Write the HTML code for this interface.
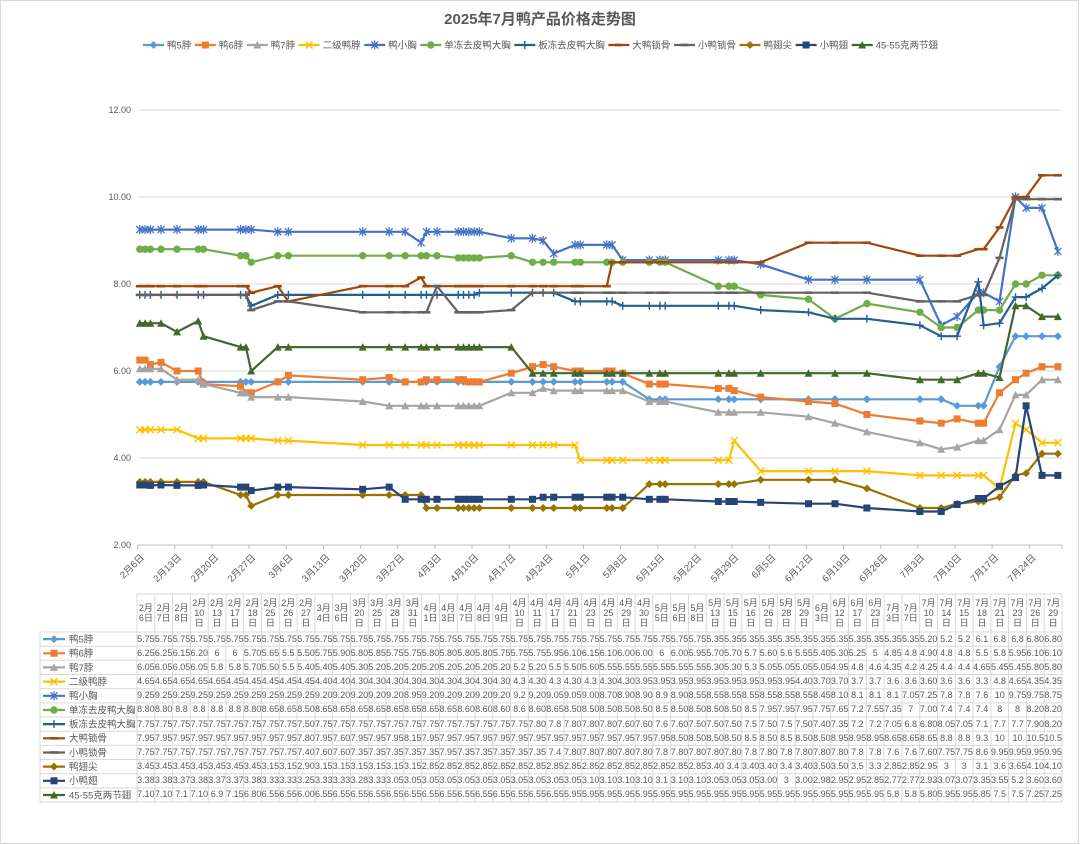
<!DOCTYPE html>
<html><head><meta charset="utf-8">
<style>
body{margin:0;background:#fff}
#c{position:relative;width:1080px;height:845px;overflow:hidden;font-family:"Liberation Sans","Noto Sans CJK SC",sans-serif;color:#595959;background:#fff}
svg{position:absolute;left:0;top:0}
.hd{position:absolute;left:137px;top:594px;width:925px;height:38px;display:grid;grid-template-columns:repeat(52,minmax(0,1fr))}
.hd i{font-style:normal;display:flex;align-items:center;justify-content:center;font-size:9px;line-height:10px;text-align:center;white-space:nowrap}
.hd i span{display:block}
.tb{position:absolute;left:137px;top:632px;width:925px}
.tb div{display:grid;grid-template-columns:repeat(52,minmax(0,1fr));height:14.17px}
.tb i{font-style:normal;display:flex;align-items:center;justify-content:center;font-size:9px;line-height:1;white-space:nowrap}
.l{fill:none;stroke-width:2.2;stroke-linejoin:round}
</style></head><body><div id="c">
<svg width="1080" height="845" viewBox="0 0 1080 845" xmlns="http://www.w3.org/2000/svg" font-family="'Liberation Sans','Noto Sans CJK SC',sans-serif">
<defs>
<marker id="m1" viewBox="-5 -5 10 10" markerWidth="10" markerHeight="10" refX="0" refY="0" markerUnits="userSpaceOnUse"><path d="M0,-4L4,0L0,4L-4,0Z" fill="#5B9BD5"/></marker>
<marker id="m2" viewBox="-5 -5 10 10" markerWidth="10" markerHeight="10" refX="0" refY="0" markerUnits="userSpaceOnUse"><rect x="-3.5" y="-3.5" width="7" height="7" fill="#ED7D31"/></marker>
<marker id="m3" viewBox="-5 -5 10 10" markerWidth="10" markerHeight="10" refX="0" refY="0" markerUnits="userSpaceOnUse"><path d="M0,-4L4,3.5L-4,3.5Z" fill="#A5A5A5"/></marker>
<marker id="m4" viewBox="-5 -5 10 10" markerWidth="10" markerHeight="10" refX="0" refY="0" markerUnits="userSpaceOnUse"><path d="M-3.5,-3.5L3.5,3.5M-3.5,3.5L3.5,-3.5" stroke="#FFC000" stroke-width="1.4" fill="none"/></marker>
<marker id="m5" viewBox="-5 -5 10 10" markerWidth="10" markerHeight="10" refX="0" refY="0" markerUnits="userSpaceOnUse"><path d="M-3.5,-3.5L3.5,3.5M-3.5,3.5L3.5,-3.5M0,-4.5L0,4.5" stroke="#4472C4" stroke-width="1.3" fill="none"/></marker>
<marker id="m6" viewBox="-5 -5 10 10" markerWidth="10" markerHeight="10" refX="0" refY="0" markerUnits="userSpaceOnUse"><circle r="3.7" fill="#70AD47"/></marker>
<marker id="m7" viewBox="-5 -5 10 10" markerWidth="10" markerHeight="10" refX="0" refY="0" markerUnits="userSpaceOnUse"><path d="M-4,0L4,0M0,-4L0,4" stroke="#255E91" stroke-width="1.4" fill="none"/></marker>
<marker id="m8" viewBox="-5 -5 10 10" markerWidth="10" markerHeight="10" refX="0" refY="0" markerUnits="userSpaceOnUse"><rect x="-4" y="-1.3" width="8" height="2.6" fill="#9E480E"/></marker>
<marker id="m9" viewBox="-5 -5 10 10" markerWidth="10" markerHeight="10" refX="0" refY="0" markerUnits="userSpaceOnUse"><rect x="-4" y="-1.3" width="8" height="2.6" fill="#636363"/></marker>
<marker id="m10" viewBox="-5 -5 10 10" markerWidth="10" markerHeight="10" refX="0" refY="0" markerUnits="userSpaceOnUse"><path d="M0,-4L4,0L0,4L-4,0Z" fill="#997300"/></marker>
<marker id="m11" viewBox="-5 -5 10 10" markerWidth="10" markerHeight="10" refX="0" refY="0" markerUnits="userSpaceOnUse"><rect x="-3.5" y="-3.5" width="7" height="7" fill="#264478"/></marker>
<marker id="m12" viewBox="-5 -5 10 10" markerWidth="10" markerHeight="10" refX="0" refY="0" markerUnits="userSpaceOnUse"><path d="M0,-4L4,3.5L-4,3.5Z" fill="#43682B"/></marker>
</defs>
<rect x="0.5" y="0.5" width="1078" height="843" fill="#fff" stroke="#D9D9D9"/>
<text x="540" y="24" text-anchor="middle" font-size="15" font-weight="bold" fill="#595959">2025年7月鸭产品价格走势图</text>

<!-- legend -->
<g class="l" fill="none">
<polyline class="l" stroke="#5B9BD5" points="143,45 153.5,45 164,45" style="marker-mid:url(#m1)"/>
<polyline class="l" stroke="#ED7D31" points="194.9,45 205.4,45 215.9,45" style="marker-mid:url(#m2)"/>
<polyline class="l" stroke="#A5A5A5" points="246.8,45 257.3,45 267.8,45" style="marker-mid:url(#m3)"/>
<polyline class="l" stroke="#FFC000" points="298.6,45 309.1,45 319.6,45" style="marker-mid:url(#m4)"/>
<polyline class="l" stroke="#4472C4" points="364.2,45 374.7,45 385.2,45" style="marker-mid:url(#m5)"/>
<polyline class="l" stroke="#70AD47" points="420.3,45 430.8,45 441.3,45" style="marker-mid:url(#m6)"/>
<polyline class="l" stroke="#255E91" points="514.3,45 524.8,45 535.3,45" style="marker-mid:url(#m7)"/>
<polyline class="l" stroke="#9E480E" points="608.4,45 618.9,45 629.4,45" style="marker-mid:url(#m8)"/>
<polyline class="l" stroke="#636363" points="674,45 684.5,45 695,45" style="marker-mid:url(#m9)"/>
<polyline class="l" stroke="#997300" points="739.5,45 750,45 760.5,45" style="marker-mid:url(#m10)"/>
<polyline class="l" stroke="#264478" points="795.6,45 806.1,45 816.6,45" style="marker-mid:url(#m11)"/>
<polyline class="l" stroke="#43682B" points="851.7,45 862.2,45 872.7,45" style="marker-mid:url(#m12)"/>
</g>
<g font-size="9.5" fill="#595959">
<text x="167" y="48.3">鸭5脖</text>
<text x="218.9" y="48.3">鸭6脖</text>
<text x="270.8" y="48.3">鸭7脖</text>
<text x="322.6" y="48.3">二级鸭脖</text>
<text x="388.2" y="48.3">鸭小胸</text>
<text x="444.3" y="48.3">单冻去皮鸭大胸</text>
<text x="538.3" y="48.3">板冻去皮鸭大胸</text>
<text x="632.4" y="48.3">大鸭锁骨</text>
<text x="698" y="48.3">小鸭锁骨</text>
<text x="763.5" y="48.3">鸭翅尖</text>
<text x="819.6" y="48.3">小鸭翅</text>
<text x="875.7" y="48.3">45-55克两节翅</text>
</g>

<!-- gridlines -->
<path d="M137.7 110H1062M137.7 197H1062M137.7 284H1062M137.7 371H1062M137.7 458H1062" stroke="#D9D9D9" stroke-width="1" fill="none"/>
<path d="M137.7 545H1062" stroke="#BFBFBF" stroke-width="1"/>
<path d="M137.7 545v4M174.8 545v4M212 545v4M249.1 545v4M286.3 545v4M323.4 545v4M360.6 545v4M397.7 545v4M434.9 545v4M472 545v4M509.2 545v4M546.3 545v4M583.5 545v4M620.6 545v4M657.8 545v4M694.9 545v4M732.1 545v4M769.2 545v4M806.4 545v4M843.5 545v4M880.7 545v4M917.8 545v4M955 545v4M992.1 545v4M1029.3 545v4M1062 545v4" stroke="#BFBFBF" stroke-width="1"/>

<!-- y labels -->
<g font-size="9" fill="#595959" text-anchor="end">
<text x="131" y="113.2">12.00</text>
<text x="131" y="200.2">10.00</text>
<text x="131" y="287.2">8.00</text>
<text x="131" y="374.2">6.00</text>
<text x="131" y="461.2">4.00</text>
<text x="131" y="548.2">2.00</text>
</g>

<!-- x labels -->
<g font-size="9.5" fill="#595959" text-anchor="end">
<text x="144.7" y="558" transform="rotate(-45 144.7 558)">2月6日</text>
<text x="181.8" y="558" transform="rotate(-45 181.8 558)">2月13日</text>
<text x="219" y="558" transform="rotate(-45 219 558)">2月20日</text>
<text x="256.1" y="558" transform="rotate(-45 256.1 558)">2月27日</text>
<text x="293.3" y="558" transform="rotate(-45 293.3 558)">3月6日</text>
<text x="330.4" y="558" transform="rotate(-45 330.4 558)">3月13日</text>
<text x="367.6" y="558" transform="rotate(-45 367.6 558)">3月20日</text>
<text x="404.7" y="558" transform="rotate(-45 404.7 558)">3月27日</text>
<text x="441.9" y="558" transform="rotate(-45 441.9 558)">4月3日</text>
<text x="479" y="558" transform="rotate(-45 479 558)">4月10日</text>
<text x="516.2" y="558" transform="rotate(-45 516.2 558)">4月17日</text>
<text x="553.3" y="558" transform="rotate(-45 553.3 558)">4月24日</text>
<text x="590.5" y="558" transform="rotate(-45 590.5 558)">5月1日</text>
<text x="627.6" y="558" transform="rotate(-45 627.6 558)">5月8日</text>
<text x="664.8" y="558" transform="rotate(-45 664.8 558)">5月15日</text>
<text x="701.9" y="558" transform="rotate(-45 701.9 558)">5月22日</text>
<text x="739.1" y="558" transform="rotate(-45 739.1 558)">5月29日</text>
<text x="776.2" y="558" transform="rotate(-45 776.2 558)">6月5日</text>
<text x="813.4" y="558" transform="rotate(-45 813.4 558)">6月12日</text>
<text x="850.5" y="558" transform="rotate(-45 850.5 558)">6月19日</text>
<text x="887.7" y="558" transform="rotate(-45 887.7 558)">6月26日</text>
<text x="924.8" y="558" transform="rotate(-45 924.8 558)">7月3日</text>
<text x="962" y="558" transform="rotate(-45 962 558)">7月10日</text>
<text x="999.1" y="558" transform="rotate(-45 999.1 558)">7月17日</text>
<text x="1036.3" y="558" transform="rotate(-45 1036.3 558)">7月24日</text>
</g>

<!-- series -->
<polyline class="l" stroke="#5B9BD5" style="marker:url(#m1)" points="139.8,381.9 145.1,381.9 150.4,381.9 161,381.9 177,381.9 198.2,381.9 203.5,381.9 240.6,381.9 245.9,381.9 251.2,381.9 277.8,381.9 288.4,381.9 362.7,381.9 389.2,381.9 405.2,381.9 421.1,381.9 426.4,381.9 437,381.9 458.2,381.9 463.5,381.9 468.8,381.9 474.1,381.9 479.4,381.9 511.3,381.9 532.5,381.9 543.1,381.9 553.7,381.9 575,381.9 580.3,381.9 606.8,381.9 612.1,381.9 622.7,381.9 649.3,399.3 659.9,399.3 665.2,399.3 718.3,399.3 728.9,399.3 734.2,399.3 760.7,399.3 808.5,399.3 835,399.3 866.9,399.3 919.9,399.3 941.2,399.3 957.1,405.8 978.3,405.8 983.6,405.8 999.5,366.7 1015.5,336.2 1026.1,336.2 1042,336.2 1057.9,336.2"/>
<polyline class="l" stroke="#ED7D31" style="marker:url(#m2)" points="139.8,360.1 145.1,360.1 150.4,364.5 161,362.3 177,371 198.2,371 203.5,384.1 240.6,386.2 245.9,392.8 251.2,392.8 277.8,381.9 288.4,375.4 362.7,379.7 389.2,377.5 405.2,381.9 421.1,381.9 426.4,379.7 437,379.7 458.2,379.7 463.5,379.7 468.8,381.9 474.1,381.9 479.4,381.9 511.3,373.2 532.5,366.7 543.1,364.5 553.7,366.7 575,371 580.3,371 606.8,371 612.1,371 622.7,373.2 649.3,384.1 659.9,384.1 665.2,384.1 718.3,388.4 728.9,388.4 734.2,390.6 760.7,397.1 808.5,401.5 835,403.6 866.9,414.5 919.9,421 941.2,423.2 957.1,418.9 978.3,423.2 983.6,423.2 999.5,392.8 1015.5,379.7 1026.1,373.2 1042,366.7 1057.9,366.7"/>
<polyline class="l" stroke="#A5A5A5" style="marker:url(#m3)" points="139.8,368.8 145.1,368.8 150.4,368.8 161,368.8 177,379.7 198.2,379.7 203.5,384.1 240.6,392.8 245.9,392.8 251.2,397.1 277.8,397.1 288.4,397.1 362.7,401.5 389.2,405.8 405.2,405.8 421.1,405.8 426.4,405.8 437,405.8 458.2,405.8 463.5,405.8 468.8,405.8 474.1,405.8 479.4,405.8 511.3,392.8 532.5,392.8 543.1,388.4 553.7,390.6 575,390.6 580.3,390.6 606.8,390.6 612.1,390.6 622.7,390.6 649.3,401.5 659.9,401.5 665.2,401.5 718.3,412.3 728.9,412.3 734.2,412.3 760.7,412.3 808.5,416.7 835,423.2 866.9,431.9 919.9,442.8 941.2,449.3 957.1,447.1 978.3,440.6 983.6,440.6 999.5,429.7 1015.5,394.9 1026.1,394.9 1042,379.7 1057.9,379.7"/>
<polyline class="l" stroke="#FFC000" style="marker:url(#m4)" points="139.8,429.7 145.1,429.7 150.4,429.7 161,429.7 177,429.7 198.2,438.4 203.5,438.4 240.6,438.4 245.9,438.4 251.2,438.4 277.8,440.6 288.4,440.6 362.7,445 389.2,445 405.2,445 421.1,445 426.4,445 437,445 458.2,445 463.5,445 468.8,445 474.1,445 479.4,445 511.3,445 532.5,445 543.1,445 553.7,445 575,445 580.3,460.2 606.8,460.2 612.1,460.2 622.7,460.2 649.3,460.2 659.9,460.2 665.2,460.2 718.3,460.2 728.9,460.2 734.2,440.6 760.7,471.1 808.5,471.1 835,471.1 866.9,471.1 919.9,475.4 941.2,475.4 957.1,475.4 978.3,475.4 983.6,475.4 999.5,488.5 1015.5,423.2 1026.1,429.7 1042,442.8 1057.9,442.8"/>
<polyline class="l" stroke="#4472C4" style="marker:url(#m5)" points="139.8,229.6 145.1,229.6 150.4,229.6 161,229.6 177,229.6 198.2,229.6 203.5,229.6 240.6,229.6 245.9,229.6 251.2,229.6 277.8,231.8 288.4,231.8 362.7,231.8 389.2,231.8 405.2,231.8 421.1,242.7 426.4,231.8 437,231.8 458.2,231.8 463.5,231.8 468.8,231.8 474.1,231.8 479.4,231.8 511.3,238.3 532.5,238.3 543.1,240.5 553.7,253.6 575,244.9 580.3,244.9 606.8,244.9 612.1,244.9 622.7,260.1 649.3,260.1 659.9,260.1 665.2,260.1 718.3,260.1 728.9,260.1 734.2,260.1 760.7,264.4 808.5,279.7 835,279.7 866.9,279.7 919.9,279.7 941.2,325.3 957.1,316.6 978.3,292.7 983.6,292.7 999.5,301.4 1015.5,197 1026.1,207.9 1042,207.9 1057.9,251.4"/>
<polyline class="l" stroke="#70AD47" style="marker:url(#m6)" points="139.8,249.2 145.1,249.2 150.4,249.2 161,249.2 177,249.2 198.2,249.2 203.5,249.2 240.6,255.7 245.9,255.7 251.2,262.3 277.8,255.7 288.4,255.7 362.7,255.7 389.2,255.7 405.2,255.7 421.1,255.7 426.4,255.7 437,255.7 458.2,257.9 463.5,257.9 468.8,257.9 474.1,257.9 479.4,257.9 511.3,255.7 532.5,262.3 543.1,262.3 553.7,262.3 575,262.3 580.3,262.3 606.8,262.3 612.1,262.3 622.7,262.3 649.3,262.3 659.9,262.3 665.2,262.3 718.3,286.2 728.9,286.2 734.2,286.2 760.7,294.9 808.5,299.2 835,318.8 866.9,303.6 919.9,312.3 941.2,327.5 957.1,327.5 978.3,310.1 983.6,310.1 999.5,310.1 1015.5,284 1026.1,284 1042,275.3 1057.9,275.3"/>
<polyline class="l" stroke="#255E91" style="marker:url(#m7)" points="139.8,294.9 145.1,294.9 150.4,294.9 161,294.9 177,294.9 198.2,294.9 203.5,294.9 240.6,294.9 245.9,294.9 251.2,305.8 277.8,294.9 288.4,294.9 362.7,294.9 389.2,294.9 405.2,294.9 421.1,294.9 426.4,294.9 437,294.9 458.2,294.9 463.5,294.9 468.8,294.9 474.1,294.9 479.4,292.7 511.3,292.7 532.5,292.7 543.1,292.7 553.7,292.7 575,301.4 580.3,301.4 606.8,301.4 612.1,301.4 622.7,305.8 649.3,305.8 659.9,305.8 665.2,305.8 718.3,305.8 728.9,305.8 734.2,305.8 760.7,310.1 808.5,312.3 835,318.8 866.9,318.8 919.9,325.3 941.2,336.2 957.1,336.2 978.3,281.8 983.6,325.3 999.5,323.2 1015.5,297.1 1026.1,297.1 1042,288.4 1057.9,275.3"/>
<polyline class="l" stroke="#9E480E" style="marker:url(#m8)" points="139.8,286.2 145.1,286.2 150.4,286.2 161,286.2 177,286.2 198.2,286.2 203.5,286.2 240.6,286.2 245.9,286.2 251.2,292.7 277.8,286.2 288.4,301.4 362.7,286.2 389.2,286.2 405.2,286.2 421.1,277.5 426.4,286.2 437,286.2 458.2,286.2 463.5,286.2 468.8,286.2 474.1,286.2 479.4,286.2 511.3,286.2 532.5,286.2 543.1,286.2 553.7,286.2 575,286.2 580.3,286.2 606.8,286.2 612.1,262.3 622.7,262.3 649.3,262.3 659.9,262.3 665.2,262.3 718.3,262.3 728.9,262.3 734.2,262.3 760.7,262.3 808.5,242.7 835,242.7 866.9,242.7 919.9,255.7 941.2,255.7 957.1,255.7 978.3,249.2 983.6,249.2 999.5,227.5 1015.5,197 1026.1,197 1042,175.3 1057.9,175.3"/>
<polyline class="l" stroke="#636363" style="marker:url(#m9)" points="139.8,294.9 145.1,294.9 150.4,294.9 161,294.9 177,294.9 198.2,294.9 203.5,294.9 240.6,294.9 245.9,294.9 251.2,310.1 277.8,301.4 288.4,301.4 362.7,312.3 389.2,312.3 405.2,312.3 421.1,312.3 426.4,312.3 437,286.2 458.2,312.3 463.5,312.3 468.8,312.3 474.1,312.3 479.4,312.3 511.3,310.1 532.5,292.7 543.1,292.7 553.7,292.7 575,292.7 580.3,292.7 606.8,292.7 612.1,292.7 622.7,292.7 649.3,292.7 659.9,292.7 665.2,292.7 718.3,292.7 728.9,292.7 734.2,292.7 760.7,292.7 808.5,292.7 835,292.7 866.9,292.7 919.9,301.4 941.2,301.4 957.1,301.4 978.3,294.9 983.6,294.9 999.5,257.9 1015.5,199.2 1026.1,199.2 1042,199.2 1057.9,199.2"/>
<polyline class="l" stroke="#997300" style="marker:url(#m10)" points="139.8,481.9 145.1,481.9 150.4,481.9 161,481.9 177,481.9 198.2,481.9 203.5,481.9 240.6,495 245.9,495 251.2,505.9 277.8,495 288.4,495 362.7,495 389.2,495 405.2,495 421.1,495 426.4,508 437,508 458.2,508 463.5,508 468.8,508 474.1,508 479.4,508 511.3,508 532.5,508 543.1,508 553.7,508 575,508 580.3,508 606.8,508 612.1,508 622.7,508 649.3,484.1 659.9,484.1 665.2,484.1 718.3,484.1 728.9,484.1 734.2,484.1 760.7,479.8 808.5,479.8 835,479.8 866.9,488.5 919.9,508 941.2,508 957.1,503.7 978.3,501.5 983.6,501.5 999.5,497.2 1015.5,475.4 1026.1,473.2 1042,453.7 1057.9,453.7"/>
<polyline class="l" stroke="#264478" style="marker:url(#m11)" points="139.8,485 145.1,485 150.4,485.4 161,485 177,485.4 198.2,485.4 203.5,485 240.6,487.1 245.9,487.1 251.2,490.6 277.8,487.1 288.4,487.1 362.7,489.3 389.2,487.1 405.2,499.3 421.1,499.3 426.4,499.3 437,499.3 458.2,499.3 463.5,499.3 468.8,499.3 474.1,499.3 479.4,499.3 511.3,499.3 532.5,499.3 543.1,497.2 553.7,497.2 575,497.2 580.3,497.2 606.8,497.2 612.1,497.2 622.7,497.2 649.3,499.3 659.9,499.3 665.2,499.3 718.3,501.5 728.9,501.5 734.2,501.5 760.7,502.4 808.5,503.7 835,503.7 866.9,508 919.9,511.5 941.2,511.5 957.1,504.5 978.3,498.5 983.6,498.5 999.5,486.3 1015.5,477.6 1026.1,405.8 1042,475.4 1057.9,475.4"/>
<polyline class="l" stroke="#43682B" style="marker:url(#m12)" points="139.8,323.2 145.1,323.2 150.4,323.2 161,323.2 177,331.9 198.2,321 203.5,336.2 240.6,347.1 245.9,347.1 251.2,371 277.8,347.1 288.4,347.1 362.7,347.1 389.2,347.1 405.2,347.1 421.1,347.1 426.4,347.1 437,347.1 458.2,347.1 463.5,347.1 468.8,347.1 474.1,347.1 479.4,347.1 511.3,347.1 532.5,373.2 543.1,373.2 553.7,373.2 575,373.2 580.3,373.2 606.8,373.2 612.1,373.2 622.7,373.2 649.3,373.2 659.9,373.2 665.2,373.2 718.3,373.2 728.9,373.2 734.2,373.2 760.7,373.2 808.5,373.2 835,373.2 866.9,373.2 919.9,379.7 941.2,379.7 957.1,379.7 978.3,373.2 983.6,373.2 999.5,377.5 1015.5,305.8 1026.1,305.8 1042,316.6 1057.9,316.6"/>

<!-- data table grid -->
<path stroke="#D9D9D9" stroke-width="1" fill="none" d="M137 594H1062M40 632H1062M40 646.2H1062M40 660.3H1062M40 674.5H1062M40 688.7H1062M40 702.9H1062M40 717H1062M40 731.2H1062M40 745.4H1062M40 759.5H1062M40 773.7H1062M40 787.9H1062M40 802H1062M40 632V802
M137 594V802M154.8 594V802M172.6 594V802M190.4 594V802M208.2 594V802M225.9 594V802M243.7 594V802M261.5 594V802M279.3 594V802M297.1 594V802M314.9 594V802M332.7 594V802M350.5 594V802M368.3 594V802M386 594V802M403.8 594V802M421.6 594V802M439.4 594V802M457.2 594V802M475 594V802M492.8 594V802M510.6 594V802M528.4 594V802M546.1 594V802M563.9 594V802M581.7 594V802M599.5 594V802M617.3 594V802M635.1 594V802M652.9 594V802M670.7 594V802M688.4 594V802M706.2 594V802M724 594V802M741.8 594V802M759.6 594V802M777.4 594V802M795.2 594V802M813 594V802M830.8 594V802M848.5 594V802M866.3 594V802M884.1 594V802M901.9 594V802M919.7 594V802M937.5 594V802M955.3 594V802M973.1 594V802M990.9 594V802M1008.6 594V802M1026.4 594V802M1044.2 594V802M1062 594V802"/>

<!-- table keys -->
<polyline class="l" stroke="#5B9BD5" points="43,639.1 54,639.1 65,639.1" style="marker-mid:url(#m1)"/>
<polyline class="l" stroke="#ED7D31" points="43,653.3 54,653.3 65,653.3" style="marker-mid:url(#m2)"/>
<polyline class="l" stroke="#A5A5A5" points="43,667.4 54,667.4 65,667.4" style="marker-mid:url(#m3)"/>
<polyline class="l" stroke="#FFC000" points="43,681.6 54,681.6 65,681.6" style="marker-mid:url(#m4)"/>
<polyline class="l" stroke="#4472C4" points="43,695.8 54,695.8 65,695.8" style="marker-mid:url(#m5)"/>
<polyline class="l" stroke="#70AD47" points="43,710 54,710 65,710" style="marker-mid:url(#m6)"/>
<polyline class="l" stroke="#255E91" points="43,724.1 54,724.1 65,724.1" style="marker-mid:url(#m7)"/>
<polyline class="l" stroke="#9E480E" points="43,738.3 54,738.3 65,738.3" style="marker-mid:url(#m8)"/>
<polyline class="l" stroke="#636363" points="43,752.5 54,752.5 65,752.5" style="marker-mid:url(#m9)"/>
<polyline class="l" stroke="#997300" points="43,766.6 54,766.6 65,766.6" style="marker-mid:url(#m10)"/>
<polyline class="l" stroke="#264478" points="43,780.8 54,780.8 65,780.8" style="marker-mid:url(#m11)"/>
<polyline class="l" stroke="#43682B" points="43,795 54,795 65,795" style="marker-mid:url(#m12)"/>
<g font-size="9.5" fill="#595959">
<text x="69" y="642.5">鸭5脖</text>
<text x="69" y="656.7">鸭6脖</text>
<text x="69" y="670.8">鸭7脖</text>
<text x="69" y="685">二级鸭脖</text>
<text x="69" y="699.2">鸭小胸</text>
<text x="69" y="713.4">单冻去皮鸭大胸</text>
<text x="69" y="727.5">板冻去皮鸭大胸</text>
<text x="69" y="741.7">大鸭锁骨</text>
<text x="69" y="755.9">小鸭锁骨</text>
<text x="69" y="770">鸭翅尖</text>
<text x="69" y="784.2">小鸭翅</text>
<text x="69" y="798.4">45-55克两节翅</text>
</g>
</svg>

<div class="hd">
<i><span>2月<br>6日</span></i><i><span>2月<br>7日</span></i><i><span>2月<br>8日</span></i><i><span>2月<br>10<br>日</span></i><i><span>2月<br>13<br>日</span></i><i><span>2月<br>17<br>日</span></i><i><span>2月<br>18<br>日</span></i><i><span>2月<br>25<br>日</span></i><i><span>2月<br>26<br>日</span></i><i><span>2月<br>27<br>日</span></i>
<i><span>3月<br>4日</span></i><i><span>3月<br>6日</span></i><i><span>3月<br>20<br>日</span></i><i><span>3月<br>25<br>日</span></i><i><span>3月<br>28<br>日</span></i><i><span>3月<br>31<br>日</span></i>
<i><span>4月<br>1日</span></i><i><span>4月<br>3日</span></i><i><span>4月<br>7日</span></i><i><span>4月<br>8日</span></i><i><span>4月<br>9日</span></i><i><span>4月<br>10<br>日</span></i><i><span>4月<br>11<br>日</span></i><i><span>4月<br>17<br>日</span></i><i><span>4月<br>21<br>日</span></i><i><span>4月<br>23<br>日</span></i><i><span>4月<br>25<br>日</span></i><i><span>4月<br>29<br>日</span></i><i><span>4月<br>30<br>日</span></i>
<i><span>5月<br>5日</span></i><i><span>5月<br>6日</span></i><i><span>5月<br>8日</span></i><i><span>5月<br>13<br>日</span></i><i><span>5月<br>15<br>日</span></i><i><span>5月<br>16<br>日</span></i><i><span>5月<br>26<br>日</span></i><i><span>5月<br>28<br>日</span></i><i><span>5月<br>29<br>日</span></i>
<i><span>6月<br>3日</span></i><i><span>6月<br>12<br>日</span></i><i><span>6月<br>17<br>日</span></i><i><span>6月<br>23<br>日</span></i>
<i><span>7月<br>3日</span></i><i><span>7月<br>7日</span></i><i><span>7月<br>10<br>日</span></i><i><span>7月<br>14<br>日</span></i><i><span>7月<br>15<br>日</span></i><i><span>7月<br>18<br>日</span></i><i><span>7月<br>21<br>日</span></i><i><span>7月<br>23<br>日</span></i><i><span>7月<br>26<br>日</span></i><i><span>7月<br>29<br>日</span></i>
</div>

<div class="tb">
<div><i>5.75</i><i>5.75</i><i>5.75</i><i>5.75</i><i>5.75</i><i>5.75</i><i>5.75</i><i>5.75</i><i>5.75</i><i>5.75</i><i>5.75</i><i>5.75</i><i>5.75</i><i>5.75</i><i>5.75</i><i>5.75</i><i>5.75</i><i>5.75</i><i>5.75</i><i>5.75</i><i>5.75</i><i>5.75</i><i>5.75</i><i>5.75</i><i>5.75</i><i>5.75</i><i>5.75</i><i>5.75</i><i>5.75</i><i>5.75</i><i>5.75</i><i>5.75</i><i>5.35</i><i>5.35</i><i>5.35</i><i>5.35</i><i>5.35</i><i>5.35</i><i>5.35</i><i>5.35</i><i>5.35</i><i>5.35</i><i>5.35</i><i>5.35</i><i>5.20</i><i>5.2</i><i>5.2</i><i>6.1</i><i>6.8</i><i>6.8</i><i>6.80</i><i>6.80</i></div>
<div><i>6.25</i><i>6.25</i><i>6.15</i><i>6.20</i><i>6</i><i>6</i><i>5.70</i><i>5.65</i><i>5.5</i><i>5.50</i><i>5.75</i><i>5.90</i><i>5.80</i><i>5.85</i><i>5.75</i><i>5.75</i><i>5.80</i><i>5.80</i><i>5.80</i><i>5.80</i><i>5.75</i><i>5.75</i><i>5.75</i><i>5.95</i><i>6.10</i><i>6.15</i><i>6.10</i><i>6.00</i><i>6.00</i><i>6</i><i>6.00</i><i>5.95</i><i>5.70</i><i>5.70</i><i>5.7</i><i>5.60</i><i>5.6</i><i>5.55</i><i>5.40</i><i>5.30</i><i>5.25</i><i>5</i><i>4.85</i><i>4.8</i><i>4.90</i><i>4.8</i><i>4.8</i><i>5.5</i><i>5.8</i><i>5.95</i><i>6.10</i><i>6.10</i></div>
<div><i>6.05</i><i>6.05</i><i>6.05</i><i>6.05</i><i>5.8</i><i>5.8</i><i>5.70</i><i>5.50</i><i>5.5</i><i>5.40</i><i>5.40</i><i>5.40</i><i>5.30</i><i>5.20</i><i>5.20</i><i>5.20</i><i>5.20</i><i>5.20</i><i>5.20</i><i>5.20</i><i>5.20</i><i>5.2</i><i>5.20</i><i>5.5</i><i>5.50</i><i>5.60</i><i>5.55</i><i>5.55</i><i>5.55</i><i>5.55</i><i>5.55</i><i>5.55</i><i>5.30</i><i>5.30</i><i>5.3</i><i>5.05</i><i>5.05</i><i>5.05</i><i>5.05</i><i>4.95</i><i>4.8</i><i>4.6</i><i>4.35</i><i>4.2</i><i>4.25</i><i>4.4</i><i>4.4</i><i>4.65</i><i>5.45</i><i>5.45</i><i>5.80</i><i>5.80</i></div>
<div><i>4.65</i><i>4.65</i><i>4.65</i><i>4.65</i><i>4.65</i><i>4.45</i><i>4.45</i><i>4.45</i><i>4.45</i><i>4.45</i><i>4.40</i><i>4.40</i><i>4.30</i><i>4.30</i><i>4.30</i><i>4.30</i><i>4.30</i><i>4.30</i><i>4.30</i><i>4.30</i><i>4.30</i><i>4.3</i><i>4.30</i><i>4.3</i><i>4.30</i><i>4.3</i><i>4.30</i><i>4.30</i><i>3.95</i><i>3.95</i><i>3.95</i><i>3.95</i><i>3.95</i><i>3.95</i><i>3.95</i><i>3.95</i><i>3.95</i><i>4.40</i><i>3.70</i><i>3.70</i><i>3.7</i><i>3.7</i><i>3.6</i><i>3.6</i><i>3.60</i><i>3.6</i><i>3.6</i><i>3.3</i><i>4.8</i><i>4.65</i><i>4.35</i><i>4.35</i></div>
<div><i>9.25</i><i>9.25</i><i>9.25</i><i>9.25</i><i>9.25</i><i>9.25</i><i>9.25</i><i>9.25</i><i>9.25</i><i>9.25</i><i>9.20</i><i>9.20</i><i>9.20</i><i>9.20</i><i>9.20</i><i>8.95</i><i>9.20</i><i>9.20</i><i>9.20</i><i>9.20</i><i>9.20</i><i>9.2</i><i>9.20</i><i>9.05</i><i>9.05</i><i>9.00</i><i>8.70</i><i>8.90</i><i>8.90</i><i>8.9</i><i>8.90</i><i>8.55</i><i>8.55</i><i>8.55</i><i>8.55</i><i>8.55</i><i>8.55</i><i>8.55</i><i>8.45</i><i>8.10</i><i>8.1</i><i>8.1</i><i>8.1</i><i>7.05</i><i>7.25</i><i>7.8</i><i>7.8</i><i>7.6</i><i>10</i><i>9.75</i><i>9.75</i><i>8.75</i></div>
<div><i>8.80</i><i>8.80</i><i>8.8</i><i>8.8</i><i>8.8</i><i>8.8</i><i>8.80</i><i>8.65</i><i>8.65</i><i>8.50</i><i>8.65</i><i>8.65</i><i>8.65</i><i>8.65</i><i>8.65</i><i>8.65</i><i>8.65</i><i>8.65</i><i>8.60</i><i>8.60</i><i>8.60</i><i>8.6</i><i>8.60</i><i>8.65</i><i>8.50</i><i>8.50</i><i>8.50</i><i>8.50</i><i>8.50</i><i>8.5</i><i>8.50</i><i>8.50</i><i>8.50</i><i>8.50</i><i>8.5</i><i>7.95</i><i>7.95</i><i>7.95</i><i>7.75</i><i>7.65</i><i>7.2</i><i>7.55</i><i>7.35</i><i>7</i><i>7.00</i><i>7.4</i><i>7.4</i><i>7.4</i><i>8</i><i>8</i><i>8.20</i><i>8.20</i></div>
<div><i>7.75</i><i>7.75</i><i>7.75</i><i>7.75</i><i>7.75</i><i>7.75</i><i>7.75</i><i>7.75</i><i>7.75</i><i>7.50</i><i>7.75</i><i>7.75</i><i>7.75</i><i>7.75</i><i>7.75</i><i>7.75</i><i>7.75</i><i>7.75</i><i>7.75</i><i>7.75</i><i>7.75</i><i>7.75</i><i>7.80</i><i>7.8</i><i>7.80</i><i>7.80</i><i>7.80</i><i>7.60</i><i>7.60</i><i>7.6</i><i>7.60</i><i>7.50</i><i>7.50</i><i>7.50</i><i>7.5</i><i>7.50</i><i>7.5</i><i>7.50</i><i>7.40</i><i>7.35</i><i>7.2</i><i>7.2</i><i>7.05</i><i>6.8</i><i>6.80</i><i>8.05</i><i>7.05</i><i>7.1</i><i>7.7</i><i>7.7</i><i>7.90</i><i>8.20</i></div>
<div><i>7.95</i><i>7.95</i><i>7.95</i><i>7.95</i><i>7.95</i><i>7.95</i><i>7.95</i><i>7.95</i><i>7.95</i><i>7.80</i><i>7.95</i><i>7.60</i><i>7.95</i><i>7.95</i><i>7.95</i><i>8.15</i><i>7.95</i><i>7.95</i><i>7.95</i><i>7.95</i><i>7.95</i><i>7.95</i><i>7.95</i><i>7.95</i><i>7.95</i><i>7.95</i><i>7.95</i><i>7.95</i><i>7.95</i><i>7.95</i><i>8.50</i><i>8.50</i><i>8.50</i><i>8.50</i><i>8.5</i><i>8.50</i><i>8.5</i><i>8.50</i><i>8.50</i><i>8.95</i><i>8.95</i><i>8.95</i><i>8.65</i><i>8.65</i><i>8.65</i><i>8.8</i><i>8.8</i><i>9.3</i><i>10</i><i>10</i><i>10.5</i><i>10.5</i></div>
<div><i>7.75</i><i>7.75</i><i>7.75</i><i>7.75</i><i>7.75</i><i>7.75</i><i>7.75</i><i>7.75</i><i>7.75</i><i>7.40</i><i>7.60</i><i>7.60</i><i>7.35</i><i>7.35</i><i>7.35</i><i>7.35</i><i>7.35</i><i>7.95</i><i>7.35</i><i>7.35</i><i>7.35</i><i>7.35</i><i>7.35</i><i>7.4</i><i>7.80</i><i>7.80</i><i>7.80</i><i>7.80</i><i>7.80</i><i>7.8</i><i>7.80</i><i>7.80</i><i>7.80</i><i>7.80</i><i>7.8</i><i>7.80</i><i>7.8</i><i>7.80</i><i>7.80</i><i>7.80</i><i>7.8</i><i>7.8</i><i>7.6</i><i>7.6</i><i>7.60</i><i>7.75</i><i>7.75</i><i>8.6</i><i>9.95</i><i>9.95</i><i>9.95</i><i>9.95</i></div>
<div><i>3.45</i><i>3.45</i><i>3.45</i><i>3.45</i><i>3.45</i><i>3.45</i><i>3.45</i><i>3.15</i><i>3.15</i><i>2.90</i><i>3.15</i><i>3.15</i><i>3.15</i><i>3.15</i><i>3.15</i><i>3.15</i><i>2.85</i><i>2.85</i><i>2.85</i><i>2.85</i><i>2.85</i><i>2.85</i><i>2.85</i><i>2.85</i><i>2.85</i><i>2.85</i><i>2.85</i><i>2.85</i><i>2.85</i><i>2.85</i><i>2.85</i><i>2.85</i><i>3.40</i><i>3.4</i><i>3.40</i><i>3.40</i><i>3.4</i><i>3.40</i><i>3.50</i><i>3.50</i><i>3.5</i><i>3.3</i><i>2.85</i><i>2.85</i><i>2.95</i><i>3</i><i>3</i><i>3.1</i><i>3.6</i><i>3.65</i><i>4.10</i><i>4.10</i></div>
<div><i>3.38</i><i>3.38</i><i>3.37</i><i>3.38</i><i>3.37</i><i>3.37</i><i>3.38</i><i>3.33</i><i>3.33</i><i>3.25</i><i>3.33</i><i>3.33</i><i>3.28</i><i>3.33</i><i>3.05</i><i>3.05</i><i>3.05</i><i>3.05</i><i>3.05</i><i>3.05</i><i>3.05</i><i>3.05</i><i>3.05</i><i>3.05</i><i>3.05</i><i>3.10</i><i>3.10</i><i>3.10</i><i>3.10</i><i>3.1</i><i>3.10</i><i>3.10</i><i>3.05</i><i>3.05</i><i>3.05</i><i>3.00</i><i>3</i><i>3.00</i><i>2.98</i><i>2.95</i><i>2.95</i><i>2.85</i><i>2.77</i><i>2.77</i><i>2.93</i><i>3.07</i><i>3.07</i><i>3.35</i><i>3.55</i><i>5.2</i><i>3.60</i><i>3.60</i></div>
<div><i>7.10</i><i>7.10</i><i>7.1</i><i>7.10</i><i>6.9</i><i>7.15</i><i>6.80</i><i>6.55</i><i>6.55</i><i>6.00</i><i>6.55</i><i>6.55</i><i>6.55</i><i>6.55</i><i>6.55</i><i>6.55</i><i>6.55</i><i>6.55</i><i>6.55</i><i>6.55</i><i>6.55</i><i>6.55</i><i>6.55</i><i>6.55</i><i>5.95</i><i>5.95</i><i>5.95</i><i>5.95</i><i>5.95</i><i>5.95</i><i>5.95</i><i>5.95</i><i>5.95</i><i>5.95</i><i>5.95</i><i>5.95</i><i>5.95</i><i>5.95</i><i>5.95</i><i>5.95</i><i>5.95</i><i>5.95</i><i>5.8</i><i>5.8</i><i>5.80</i><i>5.95</i><i>5.95</i><i>5.85</i><i>7.5</i><i>7.5</i><i>7.25</i><i>7.25</i></div>
</div>
</div></body></html>
